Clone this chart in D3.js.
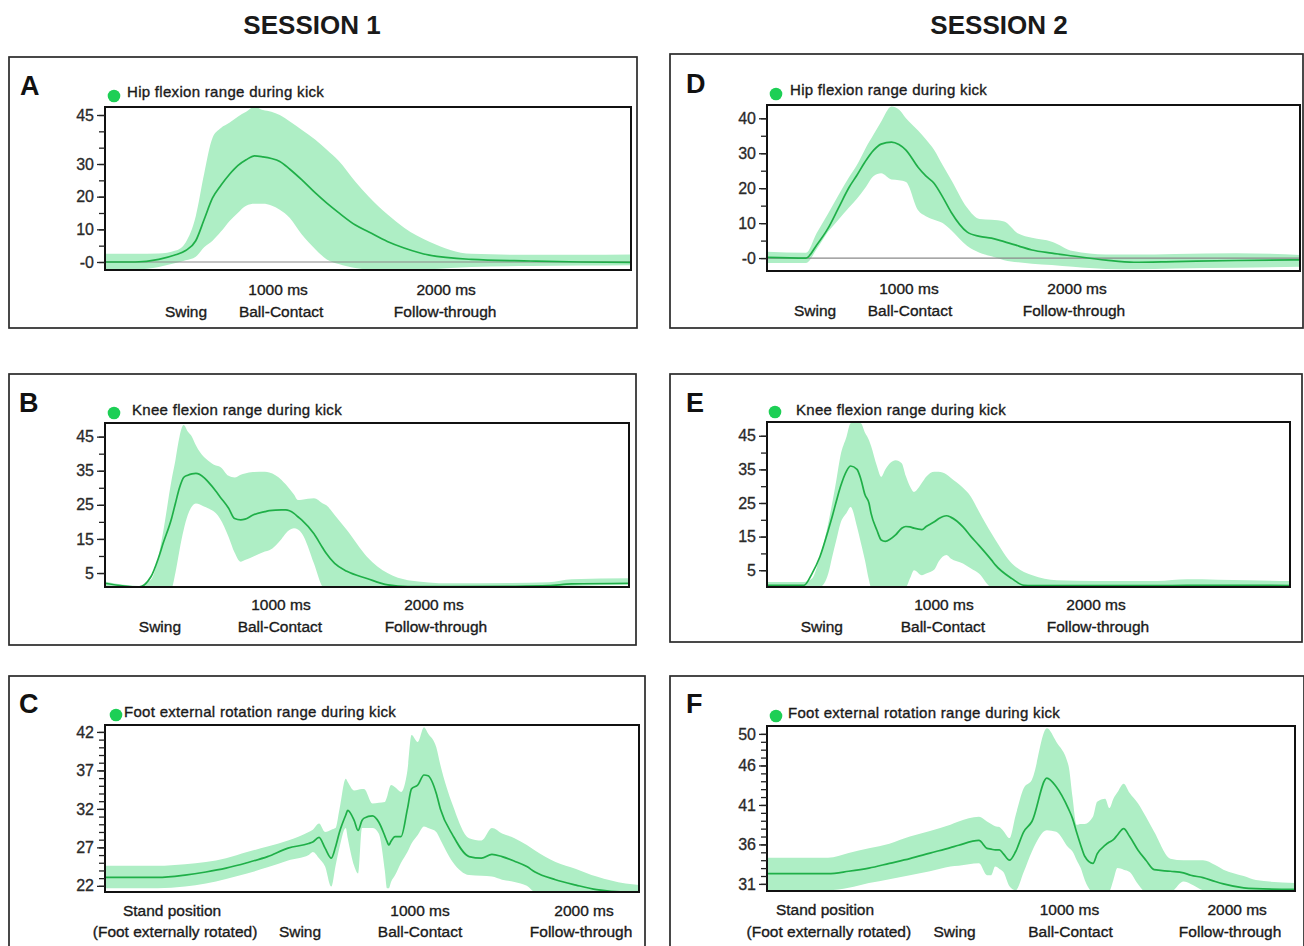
<!DOCTYPE html>
<html><head><meta charset="utf-8">
<script src="https://cdn.jsdelivr.net/npm/d3@7"></script>
<style>
body{margin:0;background:#fff;}
svg{display:block;font-family:"Liberation Sans",Arial,Helvetica,sans-serif;}
</style></head><body>
<svg id="chart" width="1304" height="946"></svg>
<script>
// ---------------- DATA ----------------
const sessionTitles = ["SESSION 1", "SESSION 2"];
const msTicks = [1000, 2000];
const msTickLabels = ["1000 ms", "2000 ms"];
const kickPhaseNames = ["Swing", "Ball-Contact", "Follow-through"];
const footPhaseNames = ["(Foot externally rotated)", "Swing", "Ball-Contact", "Follow-through"];
const standLabel = "Stand position";

// A: Hip flexion, session 1
const hipS1Time  = [-30,150,290,390,450,510,560,610,660,710,760,810,860,910,960,1010,1070,1140,1220,1290,1360,1460,1540,1650,1750,1900,2150,2500,2800,3100];
const hipS1Mean  = [0,0,0.8,2.2,3.5,6.5,13,19.6,23.5,26.8,29.5,31.3,32.5,32.2,31.7,30.8,28.4,25.2,21.2,18,15.1,11.3,9.2,6.3,4.3,2.1,0.8,0.3,0,-0.1];
const hipS1Upper = [2.5,2.5,2.6,3.5,6,14,27,38,41,42.6,44.5,46,47.5,46.5,46,45,43,40.5,37.5,34.4,31,24.6,20,14.6,10.5,6.2,2.5,2.2,2.2,2.3];
const hipS1Lower = [-2.5,-2.3,-1.5,-0.3,0.5,1.6,4.5,6.5,9.3,12.5,15,17.2,17.8,17.8,17.3,16.0,13.5,8.5,4.0,0.8,-0.6,-1.8,-2.3,-2.5,-2.5,-2.2,-1.5,-1.2,-1.1,-1.0];
const hipS1YTicks = [0,5,10,15,20,25,30,35,40,45];
const hipS1YLabels = [[45,"45"],[30,"30"],[20,"20"],[10,"10"],[0,"-0"]];
const hipS1PhaseTimes = [452,1018,1994];

// D: Hip flexion, session 2
const hipS2Time  = [155,387,450,518,580,643,690,738,790,834,896,940,982,1054,1100,1149,1200,1250,1345,1420,1491,1566,1650,1732,1850,1976,2173,2339,2583,2947,3327];
const hipS2Mean  = [0.2,0,3.7,8.5,14.3,20.2,23.7,27.5,30.9,32.6,33.2,32.5,30.9,26,23.5,21.4,17.5,13.2,7.5,6.2,5.7,4.7,3.5,2.3,1.4,0.6,-0.6,-1.2,-1.0,-0.7,-0.5];
const hipS2Upper = [1.8,1.5,7.1,12.7,18,23.1,26.6,31.1,35.4,39,43.4,42.5,40,36.5,34,31,26.6,22.5,14.5,11.2,11,10.5,7,5.8,4.7,2,1.0,1.0,1.2,1.4,0.9];
const hipS2Lower = [-1.4,-1.4,2.5,7.5,11,14.5,17,20,23.5,24.3,22.5,22.3,21.8,13.7,12,11,10,8,3.5,1.5,0.5,-0.6,-1.2,-1.6,-2.0,-2.5,-3.1,-3.2,-3.0,-2.8,-2.5];
const hipS2YTicks = [0,5,10,15,20,25,30,35,40];
const hipS2YLabels = [[40,"40"],[30,"30"],[20,"20"],[10,"10"],[0,"-0"]];
const hipS2PhaseTimes = [441,1006,1982];

// B: Knee flexion, session 1
const kneeS1Time  = [-150,70,150,200,230,285,310,337,364,391,418,444,497,523,575,601,658,697,737,765,817,895,924,1004,1031,1085,1111,1137,1216,1271,1297,1351,1431,1562,1699,1830,2100,2500,2750,2900,3275];
const kneeS1Mean  = [2.0,0.9,3.9,9.5,13.7,21,25.4,30,33,33.7,34.1,34.2,33,31.8,29,27.4,24,21,20.6,20.8,22,23,23.3,23.5,23.5,22.5,21.5,20.5,16.5,12.5,10.7,7.8,5.5,3.4,1.5,1.0,1.0,1.1,1.3,1.8,2.0];
const kneeS1Upper = [2.5,1.2,3,10,17,32.3,38,45,48.4,46.5,45,42.5,39,38,36.5,36.2,33.5,33,33.8,34.2,34.6,34.7,34.5,32.3,31,28,26.4,26.5,26.9,25.5,24.9,22,17.6,9.8,4.9,2.9,2.0,2.1,2.3,3.2,3.5];
const kneeS1Lower = [0.5,0,0,0,0,0.5,5,11.7,17.6,22,24.5,25.4,24.5,24,22.5,21,15.6,11,8.3,8.8,9.8,11.3,11.7,15,16.6,18.1,17.8,16.6,7.8,1,0,0,0,0,0.5,0.8,0.8,0.8,0.9,1.2,1.5];
const kneeYTicks = [5,10,15,20,25,30,35,40,45];
const kneeYLabels = [[45,"45"],[35,"35"],[25,"25"],[15,"15"],[5,"5"]];
const kneeS1PhaseTimes = [209,993,2013];

// E: Knee flexion, session 2
const kneeS2Time  = [-164,79,132,184,239,265,292,319,359,386,428,454,480,507,520,559,587,614,682,722,749,776,803,855,883,937,964,1017,1044,1125,1178,1230,1313,1339,1447,1526,1581,1743,2000,2400,2600,3000,3276];
const kneeS2Mean  = [0.5,0.5,4,9,16.9,21,25.5,29.8,34.5,36,35,32,27.5,24.9,22,16.9,14,13.6,15.5,17.5,18,17.9,17.5,17.1,18,19.4,20.3,21.2,20.8,17.9,15,12.4,8,6.5,2.5,0.5,0.4,0.4,0.4,0.4,0.5,0.5,0.4];
const kneeS2Upper = [1.5,1.5,2.5,9,19,25,31.8,39,44.7,48.7,49,48.7,46,43.7,42,36,32.8,35,37.7,36.8,33,30,28.3,31,32.8,34.3,34.3,33.5,32.5,29.5,26.8,22.5,15.9,14,7,4.5,3.5,2,1.8,1.8,2.3,2.0,1.8];
const kneeS2Lower = [0,0,0,0,4,9,14,18.9,22,23.8,17.9,13,8,2,0,0,0,0,0,0,0,2.5,5,3.5,4,5.2,7.5,9.5,8.5,7,5.5,4,0,0,0,0,0,0,0,0,0,0,0];
const kneeS2PhaseTimes = [197,993,2013];

// C: Foot external rotation, session 1
const footS1Time  = [-921,-600,-433,-306,-183,-55,70,195,321,346,384,421,459,484,509,547,559,598,622,646,659,710,748,785,798,810,823,848,884,923,948,986,1024,1049,1099,1124,1199,1299,1375,1438,1500,1576,1651,1701,1826,1951,2077,2253,2335];
const footS1Mean  = [23.1,23.1,23.4,23.8,24.3,25.0,25.8,26.9,27.5,27.7,28.3,26.9,25.6,27,29,31.2,31.8,30.5,29.2,30.5,30.8,31.1,30.3,28.5,27.8,27.3,27.8,28.4,28.4,32,34.6,35.1,36.4,36.3,34,32,28.6,25.8,25.6,26.1,25.8,25.2,24.5,23.8,22.8,22.1,21.5,21.2,21.2];
const footS1Upper = [24.6,24.6,24.8,25.1,25.6,26.4,27.1,27.9,29,29.3,30.1,29,29.3,29.5,32,35.9,35.5,34.4,34.5,34.6,34.6,32.7,32.8,32.9,33.5,34.5,35.1,34.8,34.2,37,41.6,40.7,42.6,41.8,40,37.7,32.5,28.2,27.9,29.5,28.8,28.2,27.3,26.6,25.1,24.2,23.2,22.3,22.1];
const footS1Lower = [21.7,21.7,21.9,22.3,22.9,23.6,24.4,25.3,26.0,26.4,25.6,24.5,21.9,24.5,27,29.5,28.2,24.6,23.6,29.5,29.5,29.5,28.8,24,21.7,21.7,22.5,23.4,25,26.4,27.5,28.6,29.7,29.5,29,28,25.1,23.4,23.3,23.2,22.8,22.5,22.0,21.2,21,21,21,21,21];
const footS1YTicks = [22,23,24,25,26,27,28,29,30,31,32,33,34,35,36,37,38,39,40,41,42];
const footS1YLabels = [[42,"42"],[37,"37"],[32,"32"],[27,"27"],[22,"22"]];
const footS1StandTime = -512;
const footS1PhaseTimes = [-494,268,1000,1982];

// F: Foot external rotation, session 2
const footS2Time  = [-804,-440,-317,-196,-74,48,168,290,339,460,508,533,557,582,606,642,679,727,776,865,921,994,1018,1043,1067,1091,1140,1165,1213,1238,1262,1286,1323,1359,1408,1456,1505,1602,1680,1723,1796,1869,1918,2039,2112,2345];
const footS2Mean  = [32.3,32.3,32.6,33.0,33.6,34.2,34.9,35.6,35.9,36.5,35.5,35.4,35.3,35.3,34.8,34,35.1,37.6,38.9,44.4,43.3,40.5,39.3,37.5,35.9,34.5,33.6,34.8,35.9,36.3,36.6,37.2,38,37,35.3,34,32.8,32.6,32.4,32.1,31.8,31.3,31,30.5,30.4,30.3];
const footS2Upper = [34.3,34.3,34.9,35.5,36.1,37,37.7,38.5,38.9,39.5,38.9,38.6,38.3,38.2,37.7,36.8,39.7,43.1,44.2,50.7,49,46,42,38.5,38.6,38.6,39.5,41.4,41.8,40.6,41.8,42.6,43.7,42.5,41.2,39.5,37.6,34.2,34,34,34,33.4,32.8,32,31.5,31.1];
const footS2Lower = [30.2,30.2,30.5,31.1,31.6,32.1,32.6,33.2,33.3,33.6,32.1,32.1,33.2,32.9,32.5,30.7,30.2,32.5,35.1,37.8,37.6,35.6,35.1,34,33,31.5,30,30,30,30.1,31.5,33,32.8,32.5,31,30,30,30,31.3,31,30.2,30,30,30,30,30];
const footS2YTicks = [31,32,33,34,35,36,37,38,39,40,41,42,43,44,45,46,47,48,49,50];
const footS2YLabels = [[50,"50"],[46,"46"],[41,"41"],[36,"36"],[31,"31"]];
const footS2StandTime = -458;
const footS2PhaseTimes = [-435,315,1006,1958];

// ---------------- LAYOUT ----------------
const panels = [
  {letter:"A", letterPos:[20,95], title:"Hip flexion range during kick", dot:[114,96], titlePos:[127,97],
   frame:[9,57,637,328], plot:[105,107,631,270], xDomain:[-30,3100], yDomain:[-2.45,47.45],
   t:hipS1Time, mean:hipS1Mean, hi:hipS1Upper, lo:hipS1Lower, yTicks:hipS1YTicks, yLabels:hipS1YLabels,
   zero:true, msY:295, phaseY:317, phaseNames:kickPhaseNames, phaseTimes:hipS1PhaseTimes},
  {letter:"D", letterPos:[686,93], title:"Hip flexion range during kick", dot:[776,94], titlePos:[790,95],
   frame:[670,54,1303,328], plot:[767,105,1300,271], xDomain:[155,3327], yDomain:[-3.7,43.8],
   t:hipS2Time, mean:hipS2Mean, hi:hipS2Upper, lo:hipS2Lower, yTicks:hipS2YTicks, yLabels:hipS2YLabels,
   zero:true, msY:294, phaseY:316, phaseNames:kickPhaseNames, phaseTimes:hipS2PhaseTimes},
  {letter:"B", letterPos:[19,412], title:"Knee flexion range during kick", dot:[114,413], titlePos:[132,415],
   frame:[9,374,636,645], plot:[105,423,629,587], xDomain:[-150,3275], yDomain:[0.9,49],
   t:kneeS1Time, mean:kneeS1Mean, hi:kneeS1Upper, lo:kneeS1Lower, yTicks:kneeYTicks, yLabels:kneeYLabels,
   zero:false, msY:610, phaseY:632, phaseNames:kickPhaseNames, phaseTimes:kneeS1PhaseTimes},
  {letter:"E", letterPos:[686,412], title:"Knee flexion range during kick", dot:[775,412], titlePos:[796,415],
   frame:[670,374,1302,642], plot:[767,422,1290,587], xDomain:[-164,3276], yDomain:[0,49.1],
   t:kneeS2Time, mean:kneeS2Mean, hi:kneeS2Upper, lo:kneeS2Lower, yTicks:kneeYTicks, yLabels:kneeYLabels,
   zero:false, msY:610, phaseY:632, phaseNames:kickPhaseNames, phaseTimes:kneeS2PhaseTimes},
  {letter:"C", letterPos:[19,713], title:"Foot external rotation range during kick", dot:[116,715], titlePos:[124,717],
   frame:[9,676,645,960], plot:[105,725,639,892], xDomain:[-921,2335], yDomain:[21.2,42.9],
   t:footS1Time, mean:footS1Mean, hi:footS1Upper, lo:footS1Lower, yTicks:footS1YTicks, yLabels:footS1YLabels,
   zero:false, msY:916, phaseY:937, phaseNames:footPhaseNames, phaseTimes:footS1PhaseTimes, standTime:footS1StandTime},
  {letter:"F", letterPos:[686,713], title:"Foot external rotation range during kick", dot:[776,716], titlePos:[788,718],
   frame:[670,676,1304,960], plot:[767,726,1295,891], xDomain:[-804,2345], yDomain:[30.1,51.0],
   t:footS2Time, mean:footS2Mean, hi:footS2Upper, lo:footS2Lower, yTicks:footS2YTicks, yLabels:footS2YLabels,
   zero:false, msY:915, phaseY:937, phaseNames:footPhaseNames, phaseTimes:footS2PhaseTimes, standTime:footS2StandTime}
];

const svg = d3.select("#chart");
const BAND = "#aeeec5", LINE = "#1faf48", DOT = "#1dcf55", TXT = "#1a1a1a";
const TXT_STROKE = 0.35;

// session titles
svg.selectAll("text.session").data(sessionTitles).join("text")
  .attr("class","session")
  .attr("x",(d,i)=> i===0 ? 312 : 999).attr("y",34)
  .attr("text-anchor","middle").attr("font-size",26).attr("font-weight","bold").attr("fill",TXT)
  .text(d=>d);

function styleText(sel, size) {
  sel.attr("font-size",size).attr("fill",TXT).attr("stroke",TXT).attr("stroke-width",TXT_STROKE);
}

panels.forEach((p,pi)=>{
  const g = svg.append("g");
  const [fx0,fy0,fx1,fy1] = p.frame;
  g.append("rect").attr("x",fx0).attr("y",fy0).attr("width",fx1-fx0).attr("height",fy1-fy0)
    .attr("fill","none").attr("stroke","#2a2a2a").attr("stroke-width",1.7);

  g.append("text").attr("x",p.letterPos[0]).attr("y",p.letterPos[1])
    .attr("font-size",27).attr("font-weight","bold").attr("fill","#111").text(p.letter);

  g.append("circle").attr("cx",p.dot[0]).attr("cy",p.dot[1]).attr("r",6.3).attr("fill",DOT);
  g.append("text").attr("x",p.titlePos[0]).attr("y",p.titlePos[1])
    .attr("letter-spacing",0.3).text(p.title).call(styleText,15);

  const [px0,py0,px1,py1] = p.plot;
  const x = d3.scaleLinear().domain(p.xDomain).range([px0,px1]);
  const y = d3.scaleLinear().domain(p.yDomain).range([py1,py0]);

  const clipId = "clip"+pi;
  svg.append("clipPath").attr("id",clipId).append("rect")
    .attr("x",px0).attr("y",py0).attr("width",px1-px0).attr("height",py1-py0);

  const idx = d3.range(p.t.length);
  const area = d3.area().curve(d3.curveMonotoneX)
    .x(i=>x(p.t[i])).y0(i=>y(p.lo[i])).y1(i=>y(p.hi[i]));
  const line = d3.line().curve(d3.curveMonotoneX)
    .x(i=>x(p.t[i])).y(i=>y(p.mean[i]));

  const inner = g.append("g").attr("clip-path",`url(#${clipId})`);
  inner.append("path").attr("d",area(idx)).attr("fill",BAND);
  if (p.zero) {
    inner.append("line").attr("x1",px0).attr("x2",px1).attr("y1",y(0)).attr("y2",y(0))
      .attr("stroke","#8a8a8a").attr("stroke-width",1.2);
  }
  inner.append("path").attr("d",line(idx)).attr("fill","none").attr("stroke",LINE).attr("stroke-width",1.7);

  g.append("rect").attr("x",px0).attr("y",py0).attr("width",px1-px0).attr("height",py1-py0)
    .attr("fill","none").attr("stroke","#111").attr("stroke-width",2);

  // y axis: minor ticks
  const minor = g.append("g").attr("transform",`translate(${px0},0)`)
    .call(d3.axisLeft(y).tickValues(p.yTicks).tickSize(6).tickFormat(""));
  minor.select(".domain").remove();
  minor.selectAll("line").attr("stroke","#222").attr("stroke-width",1.3);
  // y axis: labelled ticks
  const labMap = new Map(p.yLabels);
  const major = g.append("g").attr("transform",`translate(${px0},0)`)
    .call(d3.axisLeft(y).tickValues(p.yLabels.map(d=>d[0])).tickSize(8).tickPadding(3).tickFormat(d=>labMap.get(d)));
  major.select(".domain").remove();
  major.selectAll("line").attr("stroke","#222").attr("stroke-width",1.3);
  major.selectAll("text").attr("font-size",16).attr("fill","#2a2a2a")
    .attr("stroke","#2a2a2a").attr("stroke-width",0.3)
    .attr("font-family",'"Liberation Sans",Arial,sans-serif');

  // x labels
  g.selectAll("text.ms").data(msTicks).join("text").attr("class","ms")
    .attr("x",d=>x(d)).attr("y",p.msY).attr("text-anchor","middle")
    .text((d,i)=>msTickLabels[i]).call(styleText,15.5);
  g.selectAll("text.phase").data(p.phaseTimes).join("text").attr("class","phase")
    .attr("x",d=>x(d)).attr("y",p.phaseY).attr("text-anchor","middle")
    .text((d,i)=>p.phaseNames[i]).call(styleText,15.5);
  if (p.standTime !== undefined) {
    g.append("text").attr("x",x(p.standTime)).attr("y",p.msY).attr("text-anchor","middle")
      .text(standLabel).call(styleText,15.5);
  }
});
</script>
</body></html>
